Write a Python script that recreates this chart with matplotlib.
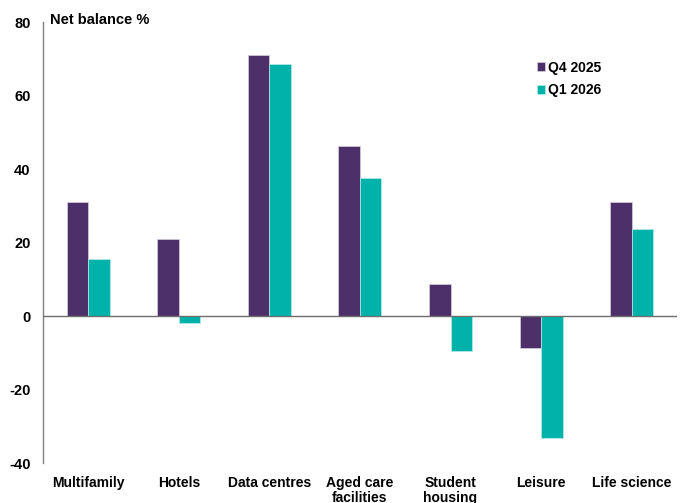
import numpy as np
import matplotlib
matplotlib.use("Agg")
import matplotlib.pyplot as plt

plt.rcParams['font.family'] = ['Liberation Sans', 'DejaVu Sans']

# Net balance by sector
sectors = ['Multifamily', 'Hotels', 'Data centres', 'Aged care\nfacilities',
           'Student\nhousing', 'Leisure', 'Life science']
q4_2025 = [31.0, 21.0, 71.0, 46.3, 8.7, -8.7, 31.0]
q1_2026 = [15.5, -2.0, 68.6, 37.6, -9.5, -33.2, 23.7]
y_ticks = [-40, -20, 0, 20, 40, 60, 80]

purple = '#4d2f69'
teal = '#00b2aa'

fig = plt.figure(figsize=(6.82, 5.03), dpi=100)
ax = fig.add_axes([0.063, 0.0795, 0.9296, 0.8767])

x = np.arange(len(sectors))
w = 0.237
ax.bar(x - w / 2, q4_2025, w, color=purple, edgecolor='#d8d0e0', linewidth=0.5,
       label='Q4 2025')
ax.bar(x + w / 2, q1_2026, w, color=teal, edgecolor='#b8ece8', linewidth=0.5,
       label='Q1 2026')

ax.set_xlim(-0.5, len(sectors) - 0.5)
ax.set_ylim(-40, 80)
ax.set_yticks(y_ticks)
ax.set_yticklabels([str(v) for v in y_ticks], fontsize=10.5, fontweight='bold')
ax.tick_params(axis='y', length=0, pad=9)

ax.set_xticks(x)
ax.set_xticklabels(sectors, fontsize=10, fontweight='bold', linespacing=1.1)
ax.tick_params(axis='x', length=0, pad=9.5)

for s in ['top', 'right', 'bottom']:
    ax.spines[s].set_visible(False)
ax.spines['left'].set_color('#808080')
ax.spines['left'].set_linewidth(1.0)
ax.axhline(0, color='#6e6e6e', linewidth=1.0, zorder=3)

fig.text(0.074, 0.96, 'Net balance %', fontsize=10.5, fontweight='bold',
         va='center', ha='left')

ax.legend(loc='upper left', bbox_to_anchor=(0.77, 0.925), frameon=False,
          prop={'weight': 'bold', 'size': 10},
          handlelength=0.6, handleheight=0.6, handletextpad=0.25,
          labelspacing=0.6, borderaxespad=0)

fig.savefig('out.png', dpi=100)
